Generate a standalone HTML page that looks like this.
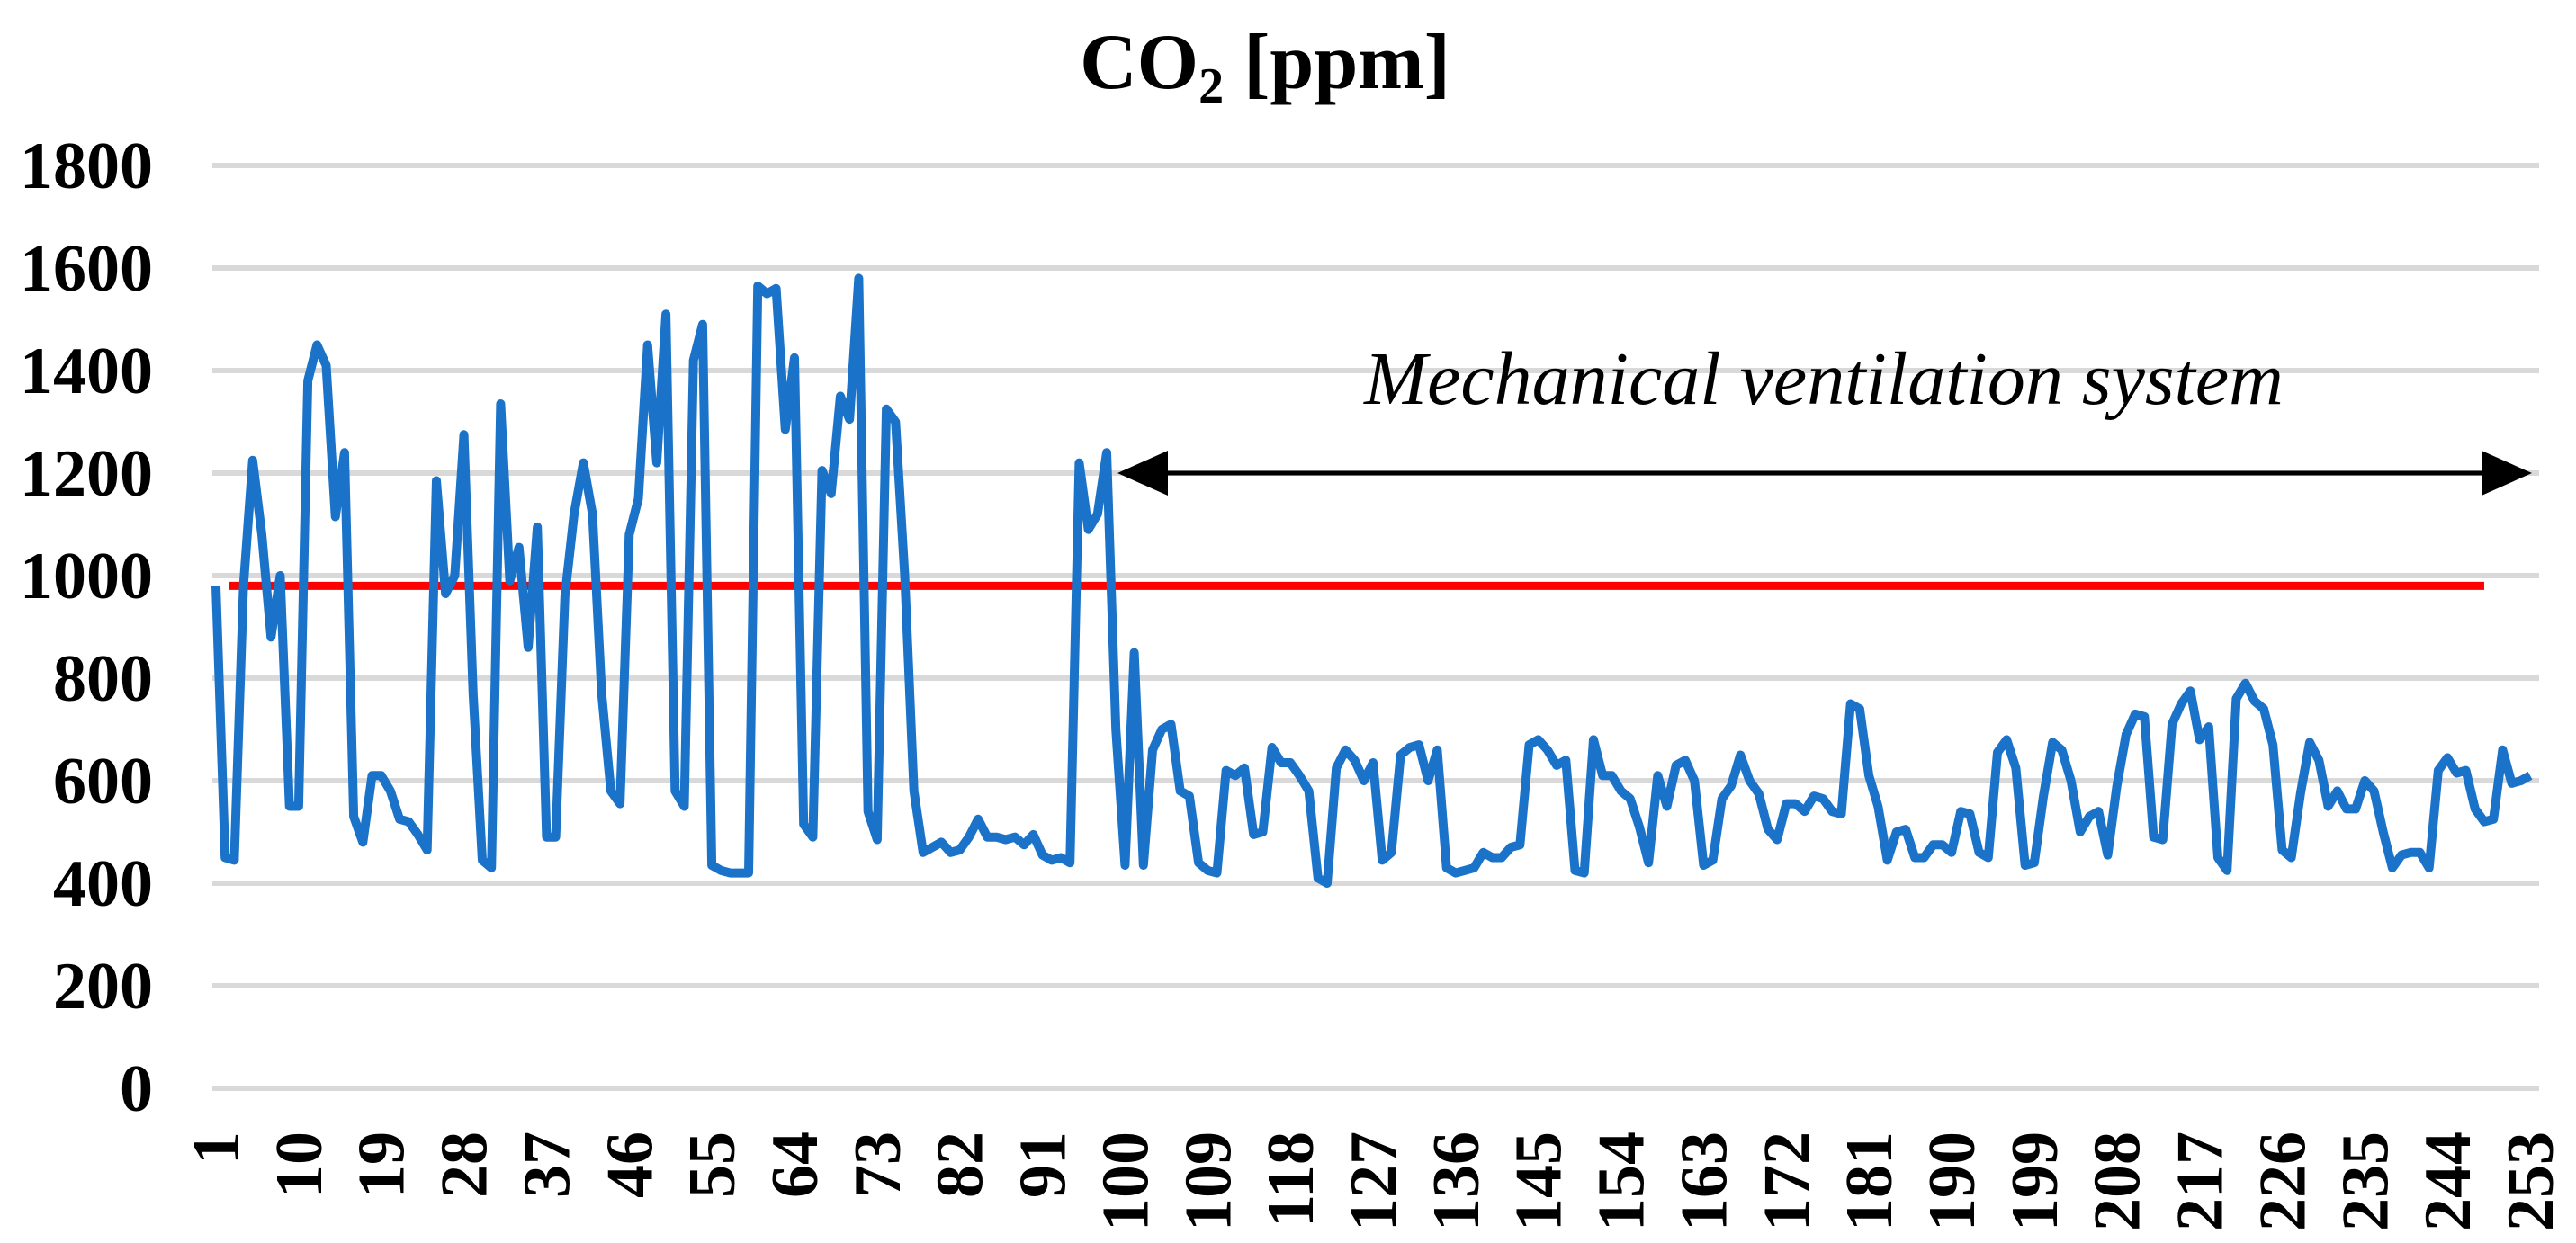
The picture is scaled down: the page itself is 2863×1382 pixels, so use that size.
<!DOCTYPE html>
<html><head><meta charset="utf-8"><style>
html,body{margin:0;padding:0;background:#fff}
svg{display:block}
</style></head><body>
<svg id="chart" width="2863" height="1382" xmlns="http://www.w3.org/2000/svg">
<text x="1406" y="98" text-anchor="middle" font-family="Liberation Serif, serif" font-weight="bold" font-size="88">CO<tspan font-size="56" dy="16">2</tspan><tspan dy="-16"> [ppm]</tspan></text>
<g id="grid"></g>
<g id="ylabels"></g>
<g id="xlabels"></g>
<line id="limit" stroke="#ff0000" stroke-width="9"/>
<polyline id="series" fill="none" stroke="#1a73c8" stroke-width="10" stroke-linejoin="round"/>
<g>
<line x1="1290" y1="526" x2="2765" y2="526" stroke="#000" stroke-width="5"/>
<polygon points="1242,526 1298,501 1298,551" fill="#000"/>
<polygon points="2814,526 2758,501 2758,551" fill="#000"/>
</g>
<text x="2027" y="449" text-anchor="middle" font-family="Liberation Serif, serif" font-style="italic" font-size="84">Mechanical ventilation system</text>
</svg>
<script>
const values = [980,450,445,980,1225,1080,880,1000,550,550,1380,1450,1410,1115,1240,530,480,610,610,580,525,520,495,465,1185,965,1000,1275,770,445,430,1335,990,1055,860,1095,490,490,960,1120,1220,1120,770,580,555,1080,1150,1450,1220,1510,580,550,1420,1490,435,425,420,420,420,1565,1550,1560,1285,1425,515,490,1205,1160,1350,1305,1580,540,485,1325,1300,1000,580,460,470,480,460,465,490,525,490,490,485,490,475,495,455,445,450,440,1220,1090,1120,1240,700,435,850,435,660,700,710,580,570,440,425,420,620,610,625,495,500,665,635,635,610,580,410,400,625,660,640,600,635,445,460,650,665,670,600,660,430,420,425,430,460,450,450,470,475,670,680,660,630,640,425,420,680,610,610,580,565,510,440,610,550,630,640,600,435,445,565,590,650,600,575,505,485,555,555,540,570,565,540,535,750,740,610,550,445,500,505,450,450,475,475,460,540,535,460,450,655,680,625,435,440,570,675,660,600,500,530,540,455,590,690,730,725,490,485,710,750,775,680,705,450,425,760,790,755,740,670,465,450,575,675,640,550,580,545,545,600,580,500,430,455,460,460,430,620,645,615,620,545,520,525,660,595,600,610];
const yTicks = [0,200,400,600,800,1000,1200,1400,1600,1800];
const xTickStep = 9;
const limitValue = 980;
const limitStart = 3, limitEnd = 248;

const NS = 'http://www.w3.org/2000/svg';
const X0 = 240, X1 = 2812, Y0 = 1210, Y1 = 184;
const n = values.length;
function xs(i){ return X0 + (i-1)*(X1-X0)/(n-1); }
function ys(v){ return Y0 - v*(Y0-Y1)/1800; }

const grid = document.getElementById('grid');
const yl = document.getElementById('ylabels');
yTicks.forEach(t=>{
  const l = document.createElementNS(NS,'line');
  
  
  l.setAttribute('x1',236); l.setAttribute('x2',2822);
  l.setAttribute('y1',ys(t)); l.setAttribute('y2',ys(t));
  l.setAttribute('stroke','#d9d9d9'); l.setAttribute('stroke-width','6');
  grid.appendChild(l);
  const tx = document.createElementNS(NS,'text');
  
  
  tx.setAttribute('x',170); tx.setAttribute('y',ys(t)+25);
  tx.setAttribute('text-anchor','end');
  tx.setAttribute('font-family','Liberation Serif, serif');
  tx.setAttribute('font-weight','bold'); tx.setAttribute('font-size','74');
  tx.textContent = t;
  yl.appendChild(tx);
});
const xl = document.getElementById('xlabels');
for(let i=1;i<=n;i+=xTickStep){
  const tx = document.createElementNS(NS,'text');
  
  
  const x = xs(i)+25, y = 1258;
  tx.setAttribute('x',x); tx.setAttribute('y',y);
  tx.setAttribute('transform','rotate(-90 '+x+' '+y+')');
  tx.setAttribute('text-anchor','end');
  tx.setAttribute('font-family','Liberation Serif, serif');
  tx.setAttribute('font-weight','bold'); tx.setAttribute('font-size','74');
  tx.textContent = i;
  xl.appendChild(tx);
}
const lim = document.getElementById('limit');
lim.setAttribute('x1',xs(limitStart)-6); lim.setAttribute('x2',xs(limitEnd));
lim.setAttribute('y1',ys(limitValue)); lim.setAttribute('y2',ys(limitValue));
document.getElementById('series').setAttribute('points', values.map((v,k)=>xs(k+1).toFixed(1)+','+ys(v).toFixed(1)).join(' '));
</script>
</body></html>
